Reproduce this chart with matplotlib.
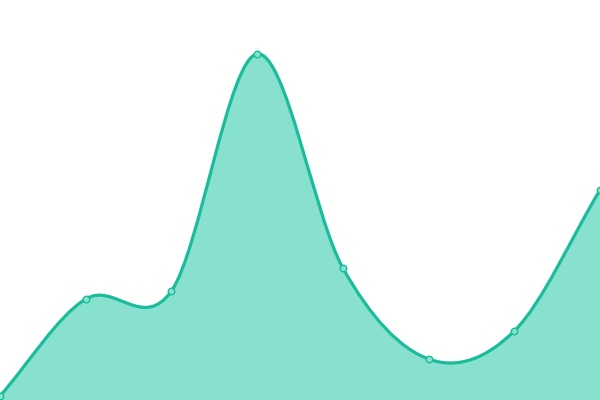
import matplotlib
matplotlib.use("Agg")
import matplotlib.pyplot as plt
import numpy as np
from matplotlib.path import Path
from matplotlib.patches import PathPatch

# data (8 points, smooth area)
x_idx = [0, 1, 2, 3, 4, 5, 6, 7]
values = [4, 101, 109, 346, 132, 41, 69, 210]

LINE = "#1abc9c"
FILL = "#88e0cf"


def smooth_path(xs, ys):
    """Catmull-Rom style cubic bezier path through the points."""
    xs = np.asarray(xs, float)
    ys = np.asarray(ys, float)
    n = len(xs)
    verts = [(xs[0], ys[0])]
    codes = [Path.MOVETO]
    for i in range(n - 1):
        p0 = i - 1 if i > 0 else i
        p3 = i + 2 if i + 2 < n else i + 1
        d1x = (xs[i + 1] - xs[p0]) / (i + 1 - p0)
        d1y = (ys[i + 1] - ys[p0]) / (i + 1 - p0)
        d2x = (xs[p3] - xs[i]) / (p3 - i)
        d2y = (ys[p3] - ys[i]) / (p3 - i)
        c1 = (xs[i] + d1x / 3, ys[i] + d1y / 3)
        c2 = (xs[i + 1] - d2x / 3, ys[i + 1] - d2y / 3)
        verts += [c1, c2, (xs[i + 1], ys[i + 1])]
        codes += [Path.CURVE4] * 3
    return verts, codes


fig = plt.figure(figsize=(6, 4), dpi=100)
ax = fig.add_axes([0, 0, 1, 1])
ax.set_xlim(0, 7)
ax.set_ylim(0, 400)
ax.axis("off")

verts, codes = smooth_path(x_idx, values)

# filled area under the curve
area_verts = verts + [(x_idx[-1], 0), (x_idx[0], 0), verts[0]]
area_codes = codes + [Path.LINETO, Path.LINETO, Path.CLOSEPOLY]
ax.add_patch(PathPatch(Path(area_verts, area_codes), facecolor=FILL,
                       edgecolor="none", zorder=1))

# line
ax.add_patch(PathPatch(Path(verts, codes), facecolor="none",
                       edgecolor=LINE, lw=2.3, zorder=2))

# markers
ax.scatter(x_idx, values, s=22, facecolor=FILL, edgecolor=LINE,
           linewidth=1.0, zorder=3)

fig.savefig("out.png", dpi=100)
